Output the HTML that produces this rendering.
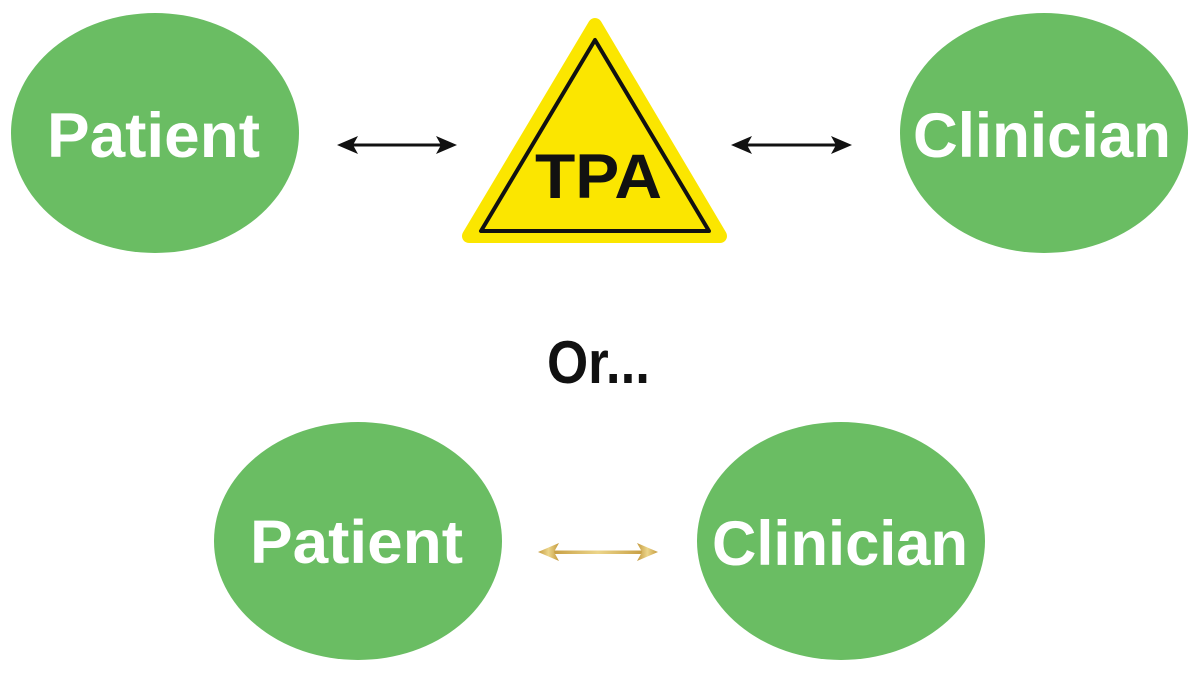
<!DOCTYPE html>
<html>
<head>
<meta charset="utf-8">
<style>
  html,body{margin:0;padding:0;background:#fff;}
  svg{display:block;}
  text{font-family:"Liberation Sans",sans-serif;font-weight:bold;}
</style>
</head>
<body>
<svg width="1200" height="675" viewBox="0 0 1200 675" xmlns="http://www.w3.org/2000/svg">
  <defs>
    <linearGradient id="gold" x1="0" y1="0" x2="1" y2="0">
      <stop offset="0" stop-color="#c49a3e"/>
      <stop offset="0.5" stop-color="#ecd58a"/>
      <stop offset="1" stop-color="#c49a3e"/>
    </linearGradient>
  </defs>
  <rect width="1200" height="675" fill="#fff"/>

  <!-- Top row ellipses -->
  <ellipse cx="155" cy="133" rx="144" ry="120" fill="#6abd63"/>
  <text x="47" y="157" font-size="63" fill="#fff" textLength="213" lengthAdjust="spacingAndGlyphs">Patient</text>

  <ellipse cx="1044" cy="133" rx="144" ry="120" fill="#6abd63"/>
  <text x="913" y="157" font-size="63" fill="#fff" textLength="258" lengthAdjust="spacingAndGlyphs">Clinician</text>

  <!-- Triangle -->
  <polygon points="595,25 469,236 720,236" fill="#fbe600" stroke="#fbe600" stroke-width="14" stroke-linejoin="round"/>
  <polygon points="595,40 481,231 709,231" fill="none" stroke="#111" stroke-width="4" stroke-linejoin="round"/>
  <text x="535" y="198" font-size="63" fill="#111" textLength="127" lengthAdjust="spacingAndGlyphs">TPA</text>

  <!-- Black arrows -->
  <g fill="#111" stroke="none">
    <rect x="348" y="143.5" width="98" height="3"/>
    <polygon points="337,145 358,136 353,145 358,154"/>
    <polygon points="457,145 436,136 441,145 436,154"/>
    <rect x="742" y="143.5" width="99" height="3"/>
    <polygon points="731,145 752,136 747,145 752,154"/>
    <polygon points="852,145 831,136 836,145 831,154"/>
  </g>

  <!-- Or... -->
  <text x="547" y="383" font-size="60" fill="#111" textLength="103" lengthAdjust="spacingAndGlyphs">Or...</text>

  <!-- Bottom row ellipses -->
  <ellipse cx="358" cy="541" rx="144" ry="119" fill="#6abd63"/>
  <text x="250" y="563" font-size="61" fill="#fff" textLength="213" lengthAdjust="spacingAndGlyphs">Patient</text>

  <ellipse cx="841" cy="541" rx="144" ry="119" fill="#6abd63"/>
  <text x="712" y="565" font-size="63" fill="#fff" textLength="256" lengthAdjust="spacingAndGlyphs">Clinician</text>

  <!-- Gold arrow -->
  <g fill="url(#gold)">
    <rect x="550" y="550.5" width="96" height="3.5"/>
    <polygon points="538,552 559,543 554,552 559,561"/>
    <polygon points="658,552 637,543 642,552 637,561"/>
  </g>
</svg>
</body>
</html>
